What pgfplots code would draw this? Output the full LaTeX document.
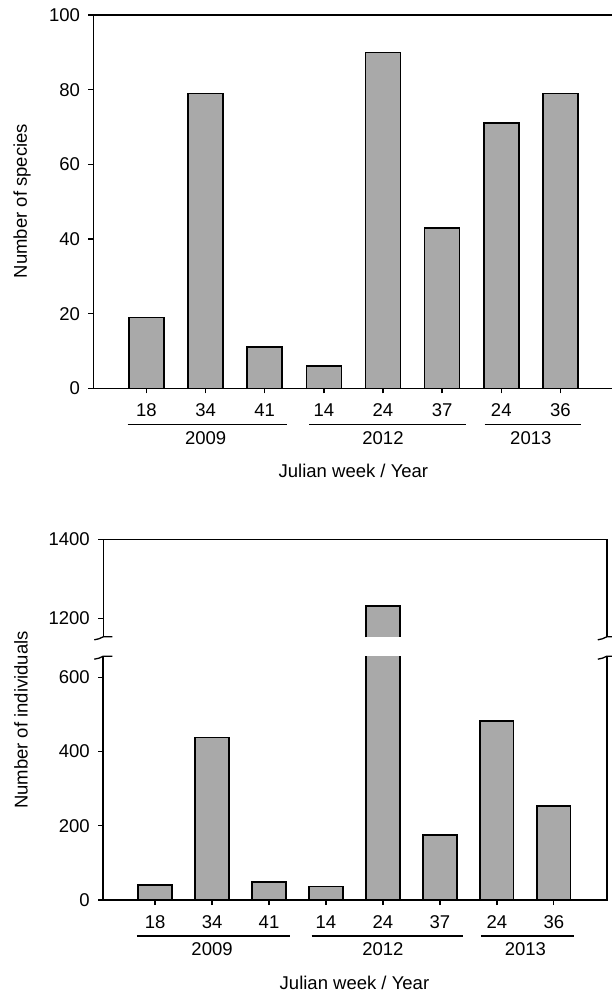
\documentclass[border=0pt]{standalone}
\usepackage{fontspec}
\setmainfont{Liberation Sans}
\usepackage{pgfplots}
\pgfplotsset{compat=1.18}

\definecolor{barfill}{RGB}{169,169,169}
\newcommand{\fs}{\fontsize{18.5}{22}\selectfont}

\pgfplotsset{
  panel/.style={
    scale only axis, axis lines=left, axis line style={draw=none},
    enlargelimits=false, clip mode=individual,
    tick align=outside, major tick length=5pt,
    every tick/.style={black, line width=1.3pt},
    tick label style={font=\fs},
    /pgf/number format/assume math mode=true,
    /pgf/number format/1000 sep={},
    xtick={0,...,7}, xticklabels={18,34,41,14,24,37,24,36},
    x tick label style={yshift=-7pt},
    y tick label style={xshift=-5pt},
    ybar, bar width=0.59,
  },
  bars/.style={fill=barfill, draw=black, line width=1.6pt},
}

% year groups under the week labels
\newcommand{\years}{%
  \draw[line width=1.3pt] ([yshift=-36pt]axis cs:-0.32,0) -- ([yshift=-36pt]axis cs:2.37,0);
  \draw[line width=1.3pt] ([yshift=-36pt]axis cs:2.75,0) -- ([yshift=-36pt]axis cs:5.41,0);
  \draw[line width=1.3pt] ([yshift=-36pt]axis cs:5.72,0) -- ([yshift=-36pt]axis cs:7.35,0);
  \node[font=\fs] at ([yshift=-49.5pt]axis cs:1,0) {2009};
  \node[font=\fs] at ([yshift=-49.5pt]axis cs:4,0) {2012};
  \node[font=\fs] at ([yshift=-49.5pt]axis cs:6.5,0) {2013};
  \node[font=\fs] at ([yshift=-83pt]axis cs:3.5,0) {Julian week / Year};
}
% break mark on an axis line
\newcommand{\brk}[2]{%
  \draw[line width=1.3pt] ([xshift=-9pt,yshift=-2.5pt]rel axis cs:#1,#2)
    to[out=0,in=200] ([yshift=0.5pt]rel axis cs:#1,#2) -- ([xshift=9pt,yshift=0.5pt]rel axis cs:#1,#2);
}

\begin{document}
\begin{tikzpicture}
\useasboundingbox (0pt,0pt) rectangle (611pt,-994pt);

% number of species
\begin{axis}[panel, at={(93.5pt,-388.3pt)}, anchor=south west,
  width=520.1pt, height=373.3pt,
  xmin=-0.896, xmax=7.9, ymin=0, ymax=100, ytick={0,20,...,100}]
\addplot[bars] coordinates {(0,19) (1,79) (2,11) (3,6) (4,90) (5,43) (6,71) (7,79)};
\draw[line width=1.6pt] (rel axis cs:1,1) -- (rel axis cs:0,1) -- (rel axis cs:0,0) -- (rel axis cs:1,0);
\years
\end{axis}
\node[rotate=90, font=\fs] at (22pt,-201pt) {Number of species};

% number of individuals, lower part
\begin{axis}[panel, at={(103.3pt,-900pt)}, anchor=south west,
  width=503.5pt, height=243.3pt,
  xmin=-0.909, xmax=7.93, ymin=0, ymax=655.5, ytick={0,200,400,600}]
\addplot[bars] coordinates {(0,40) (1,438) (2,49) (3,36) (4,1231) (5,175) (6,482) (7,254)};
\draw[line width=1.6pt] (rel axis cs:0,1) -- (rel axis cs:0,0) -- (rel axis cs:1,0) -- (rel axis cs:1,1);
\brk{0}{1}
\brk{1}{1}
\years
\end{axis}

% number of individuals, upper part (only the week 24 / 2012 bar reaches it)
\begin{axis}[panel, at={(103.3pt,-637.3pt)}, anchor=south west,
  width=503.5pt, height=98pt, xtick=\empty,
  xmin=-0.909, xmax=7.93, ymin=1152, ymax=1400, ytick={1200,1400}]
\addplot[fill=barfill, draw=none] coordinates {(4,1231)};
% open-bottom outline of the cut bar
\addplot[sharp plot, no markers, black, line width=1.6pt]
  coordinates {(3.705,1152) (3.705,1231) (4.295,1231) (4.295,1152)};
\draw[line width=1.6pt] (rel axis cs:0,0) -- (rel axis cs:0,1) -- (rel axis cs:1,1) -- (rel axis cs:1,0);
\brk{0}{0}
\brk{1}{0}
\end{axis}
\node[rotate=90, font=\fs] at (21pt,-720pt) {Number of individuals};
\end{tikzpicture}
\end{document}
